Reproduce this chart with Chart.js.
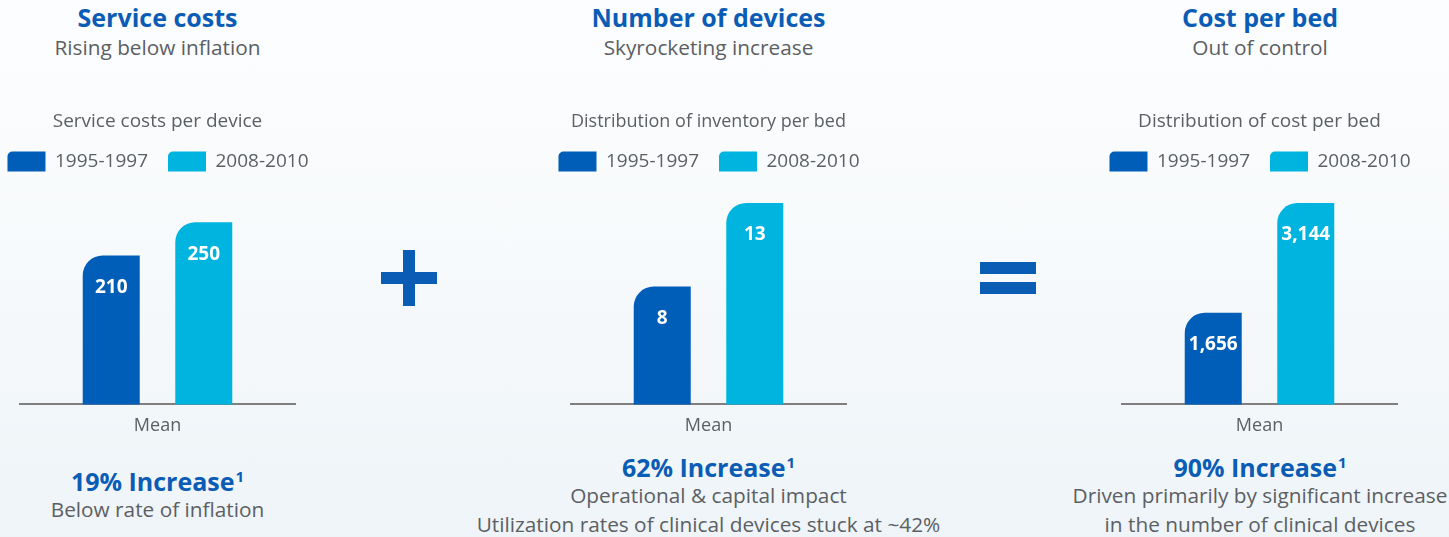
<!DOCTYPE html>
<html>
<head>
<meta charset="utf-8">
<script src="https://cdn.jsdelivr.net/npm/chart.js@4.4.1/dist/chart.umd.min.js"></script>
<style>
  html, body { margin: 0; padding: 0; }
  body {
    width: 1449px; height: 537px; overflow: hidden; position: relative;
    font-family: "Open Sans", "Noto Sans", sans-serif;
    background: linear-gradient(180deg, #fcfdfe 0%, #f6f9fb 55%, #eef4f8 100%);
  }
  .txt { position: absolute; width: 500px; text-align: center; white-space: nowrap; }
  .head { font-weight: 700; color: #0b5cb5; font-size: 25px; line-height: 30px; }
  .sub { color: #5c5f63; font-size: 20.8px; line-height: 29px; }
  .head sup { font-size: 15px; vertical-align: 0; position: relative; top: -9px; margin-left: 1px; }
  .panel { position: absolute; top: 100px; width: 360px; height: 340px; }
  .sign { position: absolute; background: #0a5cb5; }
</style>
</head>
<body>
<script>
// --- dati ---
const seriesLabels = ['1995-1997', '2008-2010'];
const categories = ['Mean'];
const serviceCost = [210, 250];
const devicesPerBed = [8, 13];
const costPerBed = [1656, 3144];

const chartTitles = ['Service costs per device', 'Distribution of inventory per bed', 'Distribution of cost per bed'];
const headTitles = ['Service costs', 'Number of devices', 'Cost per bed'];
const headSubs = ['Rising below inflation', 'Skyrocketing increase', 'Out of control'];
const increases = ['19% Increase', '62% Increase', '90% Increase'];
const notes = [
  ['Below rate of inflation'],
  ['Operational & capital impact', 'Utilization rates of clinical devices stuck at ~42%'],
  ['Driven primarily by significant increase', 'in the number of clinical devices']
];

// range asse y (non parte da zero nell'originale)
const yRanges = [[30.6, 276.7], [0.95, 13.18], [414, 3185]];

const colors = ['#005eb8', '#00b4e0'];
const centers = [157.5, 708.5, 1260];

// --- testi html ---
function addText(cls, html, cx, top) {
  const d = document.createElement('div');
  d.className = 'txt ' + cls;
  d.style.left = (cx - 250) + 'px';
  d.style.top = top + 'px';
  d.innerHTML = html;
  document.body.appendChild(d);
}

centers.forEach((cx, i) => {
  addText('head', headTitles[i], cx, 2);
  addText('sub', headSubs[i], cx, 33);
  const base = i === 0 ? 466 : 452;
  addText('head', increases[i] + '<sup>1</sup>', cx, base);
  notes[i].forEach((n, j) => addText('sub', n, cx, base + 29 + j * 29));
});

// segni + e =
function addSign(x, y, w, h) {
  const d = document.createElement('div');
  d.className = 'sign';
  Object.assign(d.style, { left: x + 'px', top: y + 'px', width: w + 'px', height: h + 'px' });
  document.body.appendChild(d);
}
addSign(381, 272, 56, 12);
addSign(403, 250, 12, 56);
addSign(980, 262, 56, 12);
addSign(980, 282, 56, 12);

// --- etichette dentro le barre ---
const barLabels = {
  id: 'barLabels',
  afterDatasetsDraw(chart) {
    const ctx = chart.ctx;
    ctx.save();
    ctx.fillStyle = '#ffffff';
    ctx.font = 'bold 19px "Open Sans", sans-serif';
    ctx.textAlign = 'center';
    ctx.textBaseline = 'middle';
    chart.data.datasets.forEach((ds, di) => {
      chart.getDatasetMeta(di).data.forEach((bar, k) => {
        ctx.fillText(ds.data[k].toLocaleString('en-US'), bar.x, bar.y + 32);
      });
    });
    ctx.restore();
  }
};

// legenda su una riga sola (più larga dell'area) + spazio sotto
const legendFix = {
  id: 'legendFix',
  beforeInit(chart) {
    const fit = chart.legend.fit;
    chart.legend.fit = function () {
      this.maxWidth = chart.width;
      fit.call(this);
      this.height += 18.5;
    };
  },
  afterLayout(chart) {
    chart.legend.left = 0;
    chart.legend.right = chart.width;
    chart.legend.width = chart.width;
  }
};

function makePanel(i, values) {
  const wrap = document.createElement('div');
  wrap.className = 'panel';
  wrap.style.left = (centers[i] - 180) + 'px';
  const cv = document.createElement('canvas');
  wrap.appendChild(cv);
  document.body.appendChild(wrap);

  return new Chart(cv, {
    type: 'bar',
    data: {
      labels: categories,
      datasets: seriesLabels.map((lab, s) => ({
        label: lab,
        data: [values[s]],
        backgroundColor: colors[s],
        borderRadius: { topLeft: 20, topRight: 0, bottomLeft: 0, bottomRight: 0 },
        borderSkipped: false,
        barPercentage: 0.616,
        categoryPercentage: 0.673
      }))
    },
    options: {
      responsive: true,
      maintainAspectRatio: false,
      animation: false,
      layout: { padding: { left: 42, right: 43, top: 0, bottom: 0 } },
      plugins: {
        title: {
          display: true,
          text: chartTitles[i],
          color: '#5c5f63',
          font: { family: '"Open Sans", sans-serif', size: 19, weight: 'normal', lineHeight: 1 },
          padding: { top: 12.5, bottom: 0 }
        },
        legend: {
          display: true,
          labels: {
            boxWidth: 38,
            boxHeight: 20,
            useBorderRadius: true,
            borderRadius: { topLeft: 5, topRight: 0, bottomLeft: 0, bottomRight: 0 },
            color: '#5c5f63',
            padding: 20,
            font: { family: '"Open Sans", sans-serif', size: 19 }
          }
        },
        tooltip: { enabled: false }
      },
      scales: {
        x: {
          grid: { display: false },
          border: { display: true, color: '#7f7f7f', width: 2 },
          ticks: { color: '#5c5f63', padding: 3, font: { family: '"Open Sans", sans-serif', size: 18 } }
        },
        y: {
          display: false,
          min: yRanges[i][0],
          max: yRanges[i][1]
        }
      }
    },
    plugins: [barLabels, legendFix]
  });
}

makePanel(0, serviceCost);
makePanel(1, devicesPerBed);
makePanel(2, costPerBed);
</script>
</body>
</html>
